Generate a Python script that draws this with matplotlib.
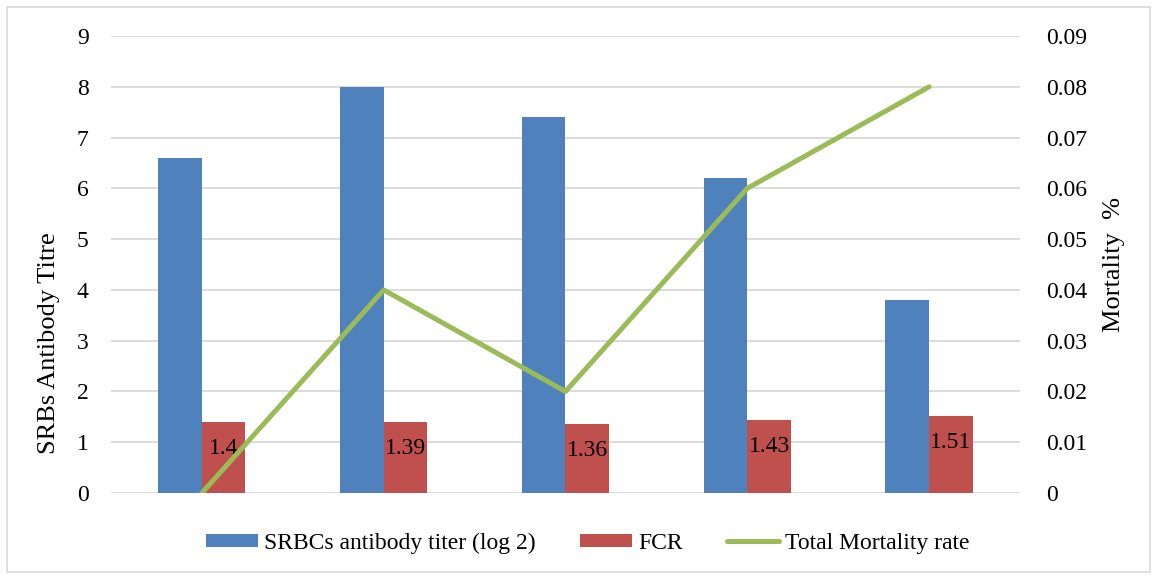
import matplotlib
matplotlib.use("Agg")
import matplotlib.pyplot as plt
from matplotlib.patches import Rectangle
import numpy as np

plt.rcParams['font.family'] = ['Liberation Serif', 'DejaVu Serif']

groups = ["T1", "T2", "T3", "T4", "T5"]
srbc_titer = [6.6, 8.0, 7.4, 6.2, 3.8]
fcr = [1.40, 1.39, 1.36, 1.43, 1.51]
mortality = [0.0, 0.04, 0.02, 0.06, 0.08]
fcr_labels = ["1.4", "1.39", "1.36", "1.43", "1.51"]

blue = "#4F81BD"
red = "#C0504D"
green = "#9BBB59"
grid_col = "#D9D9D9"

fig = plt.figure(figsize=(11.57, 5.78), dpi=100)
ax = fig.add_axes([0.0959, 0.147, 0.7857, 0.7907])
ax2 = ax.twinx()

x = np.arange(len(groups))
w = 0.24
b1 = ax.bar(x - w / 2, srbc_titer, width=w, color=blue, label="SRBCs antibody titer (log 2)", zorder=2)
b2 = ax.bar(x + w / 2, fcr, width=w, color=red, label="FCR", zorder=2)
for xi, v, t in zip(x, fcr, fcr_labels):
    ax.annotate(t, (xi + w / 2, v), xytext=(0, -19), textcoords="offset points",
                ha="center", va="center", fontsize=17, zorder=3)

ln, = ax2.plot(x, mortality, color=green, lw=3.6, solid_capstyle="round",
               label="Total Mortality rate", zorder=4)

ax.set_xlim(-0.5, len(groups) - 0.5)
ax.set_ylim(0, 9)
ax.set_yticks(range(0, 10))
ax2.set_ylim(0, 0.09)
ax2.set_yticks([i / 100 for i in range(10)])
ax2.set_yticklabels(["0"] + [f"{i/100:.2f}" for i in range(1, 10)])

ax.yaxis.grid(True, color=grid_col, lw=1.3, zorder=0)
ax.set_axisbelow(True)
ax.set_xticks([])
for a in (ax, ax2):
    for s in a.spines.values():
        s.set_visible(False)
    a.tick_params(axis="y", length=0, labelsize=17)
ax.tick_params(axis="y", pad=16)
ax2.tick_params(axis="y", pad=19)

ax.set_ylabel("SRBs Antibody Titre", fontsize=19)
ax.yaxis.set_label_coords(-0.056, 0.328)
ax2.set_ylabel("Mortality  %", fontsize=19, labelpad=11)

ax.set_zorder(ax2.get_zorder() - 1)
ax.patch.set_visible(True)
ax2.patch.set_visible(False)
ax.patch.set_facecolor("white")

fig.legend([b1, b2, ln], ["SRBCs antibody titer (log 2)", "FCR", "Total Mortality rate"],
           loc="center", bbox_to_anchor=(0.508, 0.06), ncol=3, frameon=False,
           fontsize=17, handlelength=2.2, handleheight=0.5, columnspacing=1.9, handletextpad=0.25)

fig.patches.append(Rectangle((0.006, 0.01), 0.988, 0.978, transform=fig.transFigure,
                             fill=False, edgecolor="#D9D9D9", lw=1.2))

fig.savefig("out.png", dpi=100)
